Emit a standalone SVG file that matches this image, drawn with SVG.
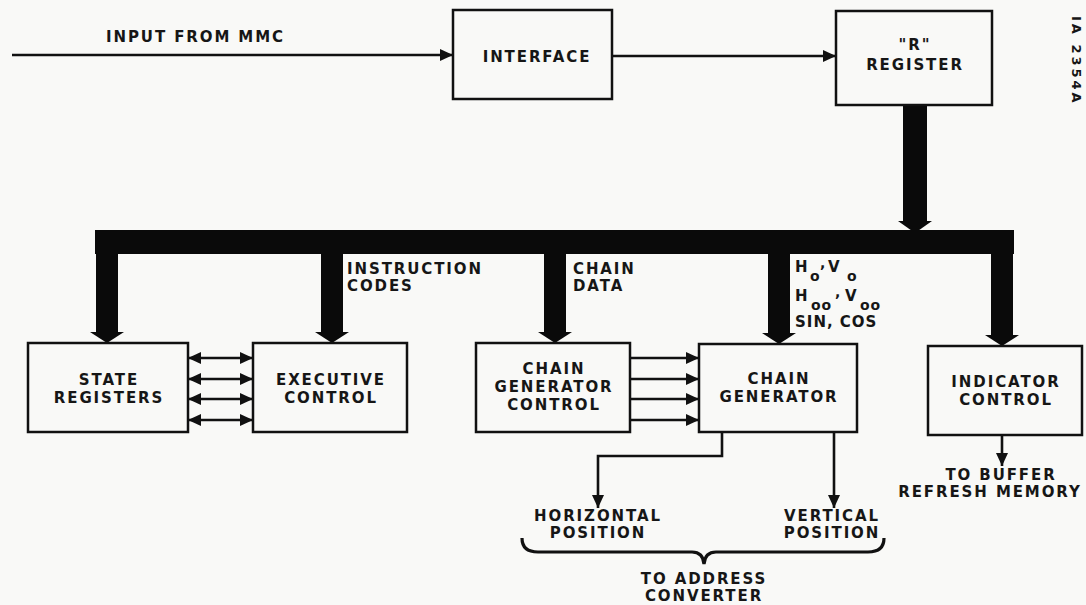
<svg xmlns="http://www.w3.org/2000/svg" width="1086" height="605" viewBox="0 0 1086 605">
<defs>
<style>
.bg{fill:#f9f9f7}
.box{fill:none;stroke:#111;stroke-width:2.5}
.ln{fill:none;stroke:#111;stroke-width:2.6}
.bus{fill:#0a0a0a}
text{font-family:"DejaVu Sans","Liberation Sans",sans-serif;font-weight:bold;font-size:15px;fill:#161616;letter-spacing:1.9px}
.c{text-anchor:middle}
.sub{font-size:14px;letter-spacing:1px}
.sm{font-size:13px;letter-spacing:3px}
</style>
<marker id="ah" viewBox="0 0 13 12" refX="13" refY="6" markerWidth="13" markerHeight="12" orient="auto" markerUnits="userSpaceOnUse">
<path d="M0,0 L13,6 L0,12 z" fill="#111"/>
</marker>
<marker id="ahs" viewBox="0 0 13 12" refX="0" refY="6" markerWidth="13" markerHeight="12" orient="auto" markerUnits="userSpaceOnUse">
<path d="M13,0 L0,6 L13,12 z" fill="#111"/>
</marker>
</defs>
<rect class="bg" x="0" y="0" width="1086" height="605"/>

<g id="connectors">
<path class="ln" d="M12,55 H453" marker-end="url(#ah)"/>
<path class="ln" d="M612,56 H836" marker-end="url(#ah)"/>
<g id="bus" class="bus">
<rect x="903" y="105" width="24" height="117"/>
<polygon points="898,221 932,221 915,233"/>
<rect x="95" y="230" width="919" height="24"/>
<rect x="96" y="230" width="22" height="103"/>
<polygon points="90,332 124,332 107,343"/>
<rect x="321" y="230" width="22" height="103"/>
<polygon points="315,332 349,332 332,343"/>
<rect x="544" y="230" width="22" height="103"/>
<polygon points="538,332 572,332 555,343"/>
<rect x="768" y="230" width="22" height="104"/>
<polygon points="762,333 796,333 779,344"/>
<rect x="991" y="230" width="22" height="106"/>
<polygon points="985,335 1019,335 1002,346"/>
</g>
<path class="ln" d="M188,358 H253" marker-start="url(#ahs)" marker-end="url(#ah)"/>
<path class="ln" d="M188,379 H253" marker-start="url(#ahs)" marker-end="url(#ah)"/>
<path class="ln" d="M188,399 H253" marker-start="url(#ahs)" marker-end="url(#ah)"/>
<path class="ln" d="M188,420 H253" marker-start="url(#ahs)" marker-end="url(#ah)"/>
<path class="ln" d="M630,358 H699" marker-end="url(#ah)"/>
<path class="ln" d="M630,379 H699" marker-end="url(#ah)"/>
<path class="ln" d="M630,399 H699" marker-end="url(#ah)"/>
<path class="ln" d="M630,420 H699" marker-end="url(#ah)"/>
<path class="ln" d="M722,432 V456 H598 V508" marker-end="url(#ah)"/>
<path class="ln" d="M834,432 V508" marker-end="url(#ah)"/>
<path class="ln" d="M1002,435 V466" marker-end="url(#ah)"/>
<path class="ln" d="M522,538 Q522,552 538,552 H692 Q703,552 704,564 Q705,552 716,552 H868 Q884,552 884,538" style="stroke-width:3.2"/>
</g>

<g id="input-label"><text x="106" y="42">INPUT FROM MMC</text></g>

<g id="interface">
<rect class="box" x="453" y="10" width="159" height="89"/>
<text class="c" x="537" y="62">INTERFACE</text>
</g>

<g id="r-register">
<rect class="box" x="836" y="11" width="156" height="94"/>
<text class="c" x="915" y="50">"R"</text>
<text class="c" x="915" y="70">REGISTER</text>
</g>

<g id="fig-id"><text class="sm" transform="translate(1072,16) rotate(90)">IA 2354A</text></g>

<g id="bus-labels">
<text class="sub" y="272"><tspan x="795" font-size="15">H</tspan><tspan x="810" y="281">o</tspan><tspan x="820" y="268">,</tspan><tspan x="828" font-size="15" y="272">V</tspan><tspan x="847" y="281">o</tspan></text>
<text class="sub" y="301"><tspan x="795" font-size="15">H</tspan><tspan x="811" y="310">oo</tspan><tspan x="835" y="297">,</tspan><tspan x="845" font-size="15" y="301">V</tspan><tspan x="860" y="310">oo</tspan></text>
<text x="795" y="327" style="letter-spacing:1px">SIN, COS</text>
<text x="347" y="274">INSTRUCTION</text>
<text x="347" y="291">CODES</text>
<text x="573" y="274">CHAIN</text>
<text x="573" y="291">DATA</text>
</g>

<g id="state-registers">
<rect class="box" x="28" y="343" width="160" height="89"/>
<text class="c" x="109" y="385">STATE</text>
<text class="c" x="109" y="403">REGISTERS</text>
</g>

<g id="executive-control">
<rect class="box" x="253" y="343" width="154" height="89"/>
<text class="c" x="331" y="385">EXECUTIVE</text>
<text class="c" x="331" y="403">CONTROL</text>
</g>

<g id="chain-generator-control">
<rect class="box" x="476" y="343" width="154" height="89"/>
<text class="c" x="554" y="374">CHAIN</text>
<text class="c" x="554" y="392">GENERATOR</text>
<text class="c" x="554" y="410">CONTROL</text>
</g>

<g id="chain-generator">
<rect class="box" x="699" y="344" width="158" height="88"/>
<text class="c" x="779" y="384">CHAIN</text>
<text class="c" x="779" y="402">GENERATOR</text>
</g>

<g id="indicator-control">
<rect class="box" x="928" y="346" width="154" height="89"/>
<text class="c" x="1006" y="387">INDICATOR</text>
<text class="c" x="1006" y="405">CONTROL</text>
</g>

<g id="outputs">
<text class="c" x="1001" y="480">TO BUFFER</text>
<text class="c" x="990" y="497">REFRESH MEMORY</text>
<text class="c" x="598" y="521">HORIZONTAL</text>
<text class="c" x="598" y="538">POSITION</text>
<text class="c" x="832" y="521">VERTICAL</text>
<text class="c" x="832" y="538">POSITION</text>
<text class="c" x="704" y="584">TO ADDRESS</text>
<text class="c" x="704" y="601">CONVERTER</text>
</g>
</svg>
